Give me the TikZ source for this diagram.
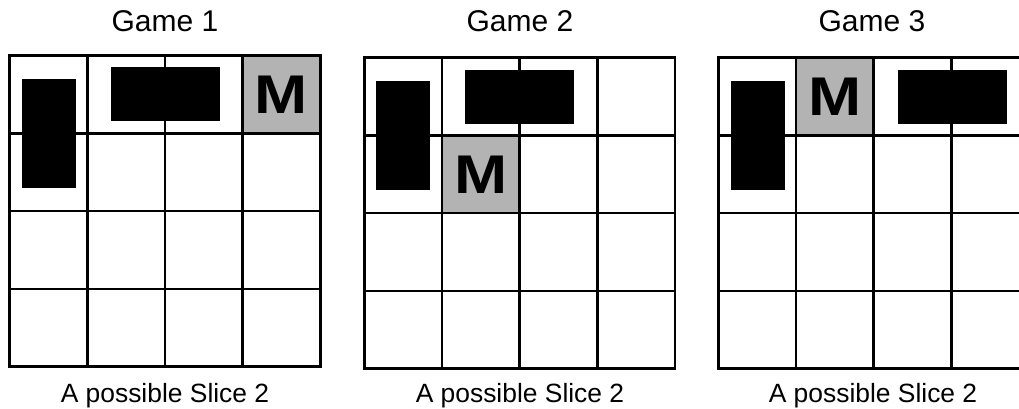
\documentclass[tikz,border=0pt]{standalone}
\usepackage{fontspec}
\setmainfont{Liberation Sans}
\usepackage{xcolor}
\definecolor{cellgray}{HTML}{B3B3B3}
\usetikzlibrary{positioning}
\tikzset{
  gridline/.style={draw=black,line width=2.6pt,line cap=rect},
  mcell/.style={fill=cellgray,draw=none,minimum size=77.7pt,inner sep=0pt,font=\fontsize{54.5}{54.5}\selectfont\bfseries},
  vbar/.style={fill=black,draw=none,minimum width=54pt,minimum height=108.7pt,inner sep=0pt},
  hbar/.style={fill=black,draw=none,minimum width=109pt,minimum height=54pt,inner sep=0pt},
  gametitle/.style={font=\fontsize{30}{36}\selectfont,anchor=base},
  slicelab/.style={font=\fontsize{26.4}{30}\selectfont,anchor=base},
}
\begin{document}
\begin{tikzpicture}[x=1pt,y=-1pt]
\useasboundingbox (0,0) rectangle (1019,408);
\clip (0,0) rectangle (1019,408);
% titles
\node[gametitle] (t1) at (165,31.7) {Game 1};
\node[gametitle] (t2) at (520,31.7) {Game 2};
\node[gametitle] (t3) at (872,31.7) {Game 3};
% Game 1
\begin{scope}[shift={(9.5,55.7)}]
  \node[mcell] (m1) at (3.5*77.7,0.5*77.7) {\scalebox{1.17}[1]{M}};
  \foreach \i in {0,...,4} {
    \draw[gridline] (\i*77.7,0) -- (\i*77.7,310.8);
    \draw[gridline] (0,\i*77.7) -- (310.8,\i*77.7);
  }
  \node[vbar] (v1) at (39.5,77.7) {};
  \node[hbar] (h1) at (156,38.5) {};
\end{scope}
% Game 2
\begin{scope}[shift={(364.3,57.7)}]
  \node[mcell] (m2) at (1.5*77.7,1.5*77.7) {\scalebox{1.17}[1]{M}};
  \foreach \i in {0,...,4} {
    \draw[gridline] (\i*77.7,0) -- (\i*77.7,310.8);
    \draw[gridline] (0,\i*77.7) -- (310.8,\i*77.7);
  }
  \node[vbar] (v2) at (38.7,77.7) {};
  \node[hbar] (h2) at (155.5,39.2) {};
\end{scope}
% Game 3
\begin{scope}[shift={(718.3,57.7)}]
  \node[mcell] (m3) at (1.5*77.7,0.5*77.7) {\scalebox{1.17}[1]{M}};
  \foreach \i in {0,...,4} {
    \draw[gridline] (\i*77.7,0) -- (\i*77.7,310.8);
    \draw[gridline] (0,\i*77.7) -- (310.8,\i*77.7);
  }
  \node[vbar] (v3) at (39.5,77.7) {};
  \node[hbar] (h3) at (234,39.2) {};
\end{scope}
% captions
\node[slicelab] (s1) at (165,402.5) {A possible Slice 2};
\node[slicelab] (s2) at (520,402.5) {A possible Slice 2};
\node[slicelab] (s3) at (873,402.5) {A possible Slice 2};
\end{tikzpicture}
\end{document}
